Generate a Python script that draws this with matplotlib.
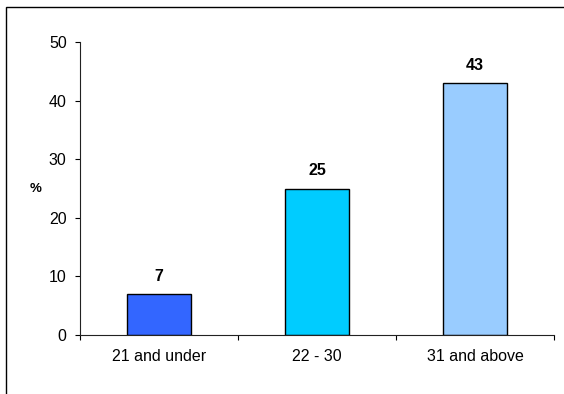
import matplotlib
matplotlib.use("Agg")
import matplotlib.pyplot as plt
from matplotlib.patches import Rectangle
import numpy as np

plt.rcParams['font.family'] = ['Liberation Sans', 'DejaVu Sans']

categories = ["21 and under", "22 - 30", "31 and above"]
values = [7, 25, 43]
colors = ["#3366FF", "#00CCFF", "#99CCFF"]
yticks = [0, 10, 20, 30, 40, 50]

W, H = 564, 394
fig = plt.figure(figsize=(W / 100, H / 100), dpi=100)
fig.patch.set_facecolor("white")

# outer frame (cropped on right and bottom)
fig.patches.append(Rectangle((5.5 / W, -0.2), 2.0, (H - 6.5) / H + 0.2,
                             transform=fig.transFigure, fill=False,
                             edgecolor="black", linewidth=1.0, zorder=0))

ax = fig.add_axes([80 / W, 59 / H, (554 - 80) / W, (335 - 42) / H])
x = np.arange(len(categories))
ax.bar(x, values, width=0.405, color=colors, edgecolor="black", linewidth=1.0, zorder=2)

for xi, v in zip(x, values):
    ax.annotate(str(v), (xi, v), xytext=(0, 7.5), textcoords="offset points",
                ha="center", va="bottom", fontsize=11.5, fontweight="bold")

ax.set_xlim(-0.5, len(categories) - 0.5)
ax.set_ylim(0, 50)
ax.set_yticks(yticks)
ax.set_yticklabels([str(t) for t in yticks], fontsize=11.5)
ax.set_xticks(x)
ax.set_xticklabels(categories, fontsize=11.5)
ax.set_xticks(np.arange(len(categories) + 1) - 0.5, minor=True)
ax.tick_params(axis="x", which="major", length=0, pad=10)
ax.tick_params(axis="x", which="minor", length=3.6, width=0.8, direction="out")
ax.tick_params(axis="y", length=3.6, width=0.8, direction="out", pad=6)

for s in ["top", "right"]:
    ax.spines[s].set_visible(False)
for s in ["left", "bottom"]:
    ax.spines[s].set_linewidth(0.8)
    ax.spines[s].set_color("#222222")

ax.set_ylabel("%", rotation=0, fontsize=9.5, fontweight="bold", va="center", ha="center")
ax.yaxis.set_label_coords((36 - 80) / (554 - 80), 0.5)

fig.savefig("out.png", dpi=100)
